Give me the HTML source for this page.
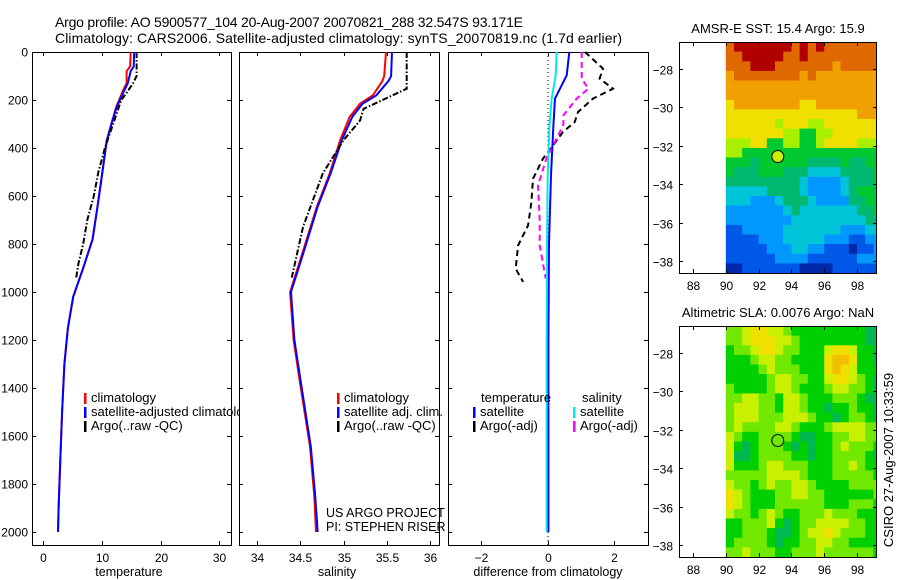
<!DOCTYPE html>
<html><head><meta charset="utf-8">
<style>
html,body{margin:0;padding:0;background:#fff;}
svg{display:block;font-family:"Liberation Sans",sans-serif;}
</style></head>
<body>
<svg id="fig" width="900" height="580" viewBox="0 0 900 580" xmlns="http://www.w3.org/2000/svg"></svg>
<script>
// ---------- data ----------
const depthTemp = [0,60,80,130,160,230,300,370,530,650,780,900,1020,1150,1300,1500,1700,1900,2000];
const tempClim  = [14.9,14.8,14.2,14.2,13.6,12.4,11.6,10.8,9.9,9.2,8.4,6.8,5.1,4.2,3.6,3.2,2.9,2.6,2.5];
const tempSat   = [15.5,15.4,14.9,14.4,13.8,12.5,11.6,10.8,9.9,9.2,8.4,6.8,5.1,4.2,3.6,3.2,2.9,2.6,2.5];
const depthArgo = [0,100,130,170,200,250,300,400,500,600,700,800,880,940];
const tempArgo  = [15.9,15.9,15.3,14.2,13.3,12.6,11.9,10.5,9.4,8.6,7.5,6.8,6.0,5.6];

const depthSal = [0,100,120,180,215,270,367,505,644,853,1000,1200,1367,1644,1850,2000];
const salClim  = [35.49,35.47,35.45,35.34,35.19,35.07,34.96,34.84,34.69,34.51,34.38,34.42,34.49,34.61,34.66,34.68];
const salSat   = [35.56,35.55,35.52,35.38,35.22,35.1,34.98,34.85,34.70,34.52,34.39,34.43,34.50,34.62,34.67,34.70];
const depthSalArgo = [0,153,195,237,285,367,505,728,922,940];
const salArgo  = [35.73,35.73,35.48,35.23,35.19,35.0,34.76,34.53,34.41,34.40];

const depthDiffSat = [0,97,194,306,514,800,1200,2000];
const diffTempSat  = [0.65,0.57,0.22,0.17,0.1,0.04,0.02,0.02];
const diffSalSat   = [0.27,0.24,0.12,0.05,0.0,-0.02,-0.03,-0.03];
const depthDiffArgo = [0,69,111,153,194,250,292,333,389,444,528,625,722,806,903,958];
const diffTempArgo  = [1.12,1.66,1.56,1.96,1.36,0.91,0.81,0.46,0.16,-0.14,-0.44,-0.49,-0.59,-0.89,-0.96,-0.74];
const depthDiffSalArgo = [0,111,153,194,264,300,347,389,444,556,700,806,944];
const diffSalArgo  = [1.02,1.02,1.22,0.87,0.47,0.47,0.32,0.16,-0.04,-0.29,-0.24,-0.24,-0.06];

const depthTicks = [0,200,400,600,800,1000,1200,1400,1600,1800,2000];
const tempTicks = [0,10,20,30];
const salTicks = [34,34.5,35,35.5,36];
const diffTicks = [-2,0,2];
const lonTicks = [88,90,92,94,96,98];
const latTicks = [-28,-30,-32,-34,-36,-38];

const sstRows = [
"9AAAAAAA9A9A9999999","99AAAAA99A999999999","999AAA9999999899999","8999999998988888888",
"8888888888888888888","8888888888888888888","7888888887788888888","7777777777777777888",
"7777776777667777777","7777777665566777777","6667755665567777666","6655555555555555555",
"5554555555444454455","5444555444333344445","4444444443222234445","3333344443222234555",
"3332223444322224455","2222222343333333445","2222222233333333344","1122222333333322233",
"1111222333332221122","1111122233221110112","1111112222111111222","0011111110000111111"];
const sstColors = {"0":"#0028a8","1":"#0058e8","2":"#0098ff","3":"#00c4d8","4":"#00b870","5":"#00c830","6":"#a8f000","7":"#f0e000","8":"#f0a000","9":"#e06800","A":"#b00000"};
const slaRows = [
"2234433211111111100","2234443321111111100","1223443221113443110","1112332211114554110",
"1111232221114543111","1111123322113443210","2111123321112332210","2233221332111222100",
"2333221332110112110","2333222333211012210","2322223321112333322","3211222210011223322",
"3101222101011232221","3001222211011222210","3111233222111223211","2222233332111222221",
"3221232233211112222","4321112233221111112","4321112222221112221","3221232112223222111",
"1122231012233332211","1122210012334322211","1222210112233221111","2232221122232222221"];
const slaColors = {"0":"#00b850","1":"#00d000","2":"#70e800","3":"#c8f000","4":"#f0e000","5":"#f0c000"};
const argoLon = 93.171, argoLat = -32.547;

// ---------- helpers ----------
const NS="http://www.w3.org/2000/svg";
const svg=document.getElementById('fig');
function el(tag,attrs,parent){const e=document.createElementNS(NS,tag);for(const k in attrs)e.setAttribute(k,attrs[k]);(parent||svg).appendChild(e);return e;}
function txt(s,x,y,attrs,parent){const t=el('text',Object.assign({x:x,y:y,'font-size':13,fill:'#000'},attrs||{}),parent);t.textContent=s;return t;}

const TOP=52, BOT=545;
const yD = d => TOP + d*0.24;
const xT = v => 43.3 + v*5.867;
const xS = v => 257.3 + (v-34)*86.35;
const xF = v => 547.7 + v*33.3;

function panel(name,x0,x1){
  const r=el('rect',{x:x0+0.5,y:TOP+0.5,width:x1-x0,height:BOT-TOP,fill:'#fff',stroke:'#000','stroke-width':1});
  
  
  return r;
}
function ticksY(x0,x1,labels){
  depthTicks.forEach(d=>{
    const y=Math.round(yD(d))+0.5;
    el('line',{x1:x0,y1:y,x2:x0+4,y2:y,stroke:'#000'});
    el('line',{x1:x1-4,y1:y,x2:x1,y2:y,stroke:'#000'});
    if(labels){const t=txt(String(d),28,y+4,{'text-anchor':'end','font-size':12});
      
      }
  });
}
function ticksX(vals,fx,fmt,name){
  vals.forEach(v=>{
    const x=Math.round(fx(v))+0.5;
    el('line',{x1:x,y1:TOP,x2:x,y2:TOP+4,stroke:'#000'});
    el('line',{x1:x,y1:BOT-4,x2:x,y2:BOT,stroke:'#000'});
    const t=txt(fmt(v),x,562,{'text-anchor':'middle','font-size':12});
    
    
  });
}
function line(xs,ds,fx,color,name,dash){
  const pts=xs.map((v,i)=>fx(v).toFixed(1)+','+yD(ds[i]).toFixed(1)).join(' ');
  const a={points:pts,fill:'none',stroke:color,'stroke-width':2};
  if(dash)a['stroke-dasharray']=dash;
  const p=el('polyline',a);
  
  
}
function legend(items,x,y){
  items.forEach((it,i)=>{
    el('rect',{x:x,y:y+i*14-9,width:2.5,height:11,fill:it[1]});
    const t=txt(it[0],x+7,y+i*14,{});
    
    
  });
}

// ---------- titles ----------
let t=txt('Argo profile: AO 5900577_104 20-Aug-2007 20070821_288 32.547S 93.171E',55,27,{'font-size':14,textLength:468});


t=txt('Climatology: CARS2006. Satellite-adjusted climatology: synTS_20070819.nc (1.7d earlier)',55,43,{'font-size':14,textLength:567});



// ---------- panel 1 ----------
panel('temperature-panel',32,231);
ticksY(32,231,true);
ticksX(tempTicks,xT,v=>String(v),'temperature-tick-label');
line(tempClim,depthTemp,xT,'#ff0000','temperature-climatology-line');
line(tempSat,depthTemp,xT,'#0000ff','temperature-satellite-line');
line(tempArgo,depthArgo,xT,'#000000','temperature-argo-line','6,2,1.5,2');
legend([['climatology','#ff0000'],['satellite-adjusted climatology','#0000ff'],['Argo(..raw -QC)','#000000']],84,402);
t=txt('temperature',129,576,{'text-anchor':'middle','font-size':12.5});



// ---------- panel 2 ----------
panel('salinity-panel',239,439);
ticksY(239,439,false);
ticksX(salTicks,xS,v=>String(v),'salinity-tick-label');
line(salClim,depthSal,xS,'#ff0000','salinity-climatology-line');
line(salSat,depthSal,xS,'#0000ff','salinity-satellite-line');
line(salArgo,depthSalArgo,xS,'#000000','salinity-argo-line','6,2,1.5,2');
legend([['climatology','#ff0000'],['satellite adj. clim.','#0000ff'],['Argo(..raw -QC)','#000000']],337,402);
t=txt('US ARGO PROJECT',326,517,{'font-size':12.5});


t=txt('PI: STEPHEN RISER',326,531,{'font-size':12.5});


t=txt('salinity',337,576,{'text-anchor':'middle','font-size':12.5});



// ---------- panel 3 ----------
panel('difference-panel',448,648);
ticksY(448,648,false);
ticksX(diffTicks,xF,v=>v<0?'\u2212'+Math.abs(v):String(v),'difference-tick-label');
el('line',{x1:548,y1:TOP,x2:548,y2:BOT,stroke:'#000','stroke-dasharray':'1,3'});
line(diffTempArgo,depthDiffArgo,xF,'#000000','difference-temperature-argo-line','6,4');
line(diffSalArgo,depthDiffSalArgo,xF,'#ff00ff','difference-salinity-argo-line','6,4');
line(diffTempSat,depthDiffSat,xF,'#0000ff','difference-temperature-satellite-line');
line(diffSalSat,depthDiffSat,xF,'#00e8e8','difference-salinity-satellite-line');
t=txt('temperature',481,402,{});


t=txt('salinity',582,402,{});


legend([['satellite','#0000ff'],['Argo(-adj)','#000000']],473,416);
legend([['satellite','#00e8e8'],['Argo(-adj)','#ff00ff']],573,416);
t=txt('difference from climatology',548,576,{'text-anchor':'middle','font-size':12.5});



// ---------- maps ----------
function map(name,top,rows,colors,titleStr,circFill){
  const L=679,R=877,H=231;
  const xL=v=>725.8+(v-90)*16.4;
  const yL=v=>top+(v+26.6)*(-H/12);
  const g=el('g',{});
  
  
  el('rect',{x:L,y:top,width:R-L,height:H,fill:'#fff'},g);
  const cl=el('clipPath',{id:name+'-clip'},g);
  el('rect',{x:L,y:top,width:R-L,height:H},cl);
  const cg=el('g',{'clip-path':'url(#'+name+'-clip)'},g);
  rows.forEach((row,ri)=>{
    for(let ci=0;ci<row.length;ci++){
      const lon=90+ci*0.5, lat=-26.6-ri*0.5;
      const x=xL(lon), y=yL(lat);
      const c=el('rect',{x:x.toFixed(1),y:y.toFixed(1),width:(xL(lon+0.5)-x+0.4).toFixed(1),height:(yL(lat-0.5)-y+0.4).toFixed(1),fill:colors[row[ci]]},cg);
      
      
    }
  });
  el('rect',{x:L+0.5,y:top+0.5,width:R-L-1,height:H,fill:'none',stroke:'#000'},g);
  lonTicks.forEach(v=>{
    const x=Math.round(xL(v))+0.5;
    el('line',{x1:x,y1:top,x2:x,y2:top+4,stroke:'#000'},g);
    el('line',{x1:x,y1:top+H-4,x2:x,y2:top+H,stroke:'#000'},g);
    const lt=txt(String(v),x,top+H+17,{'text-anchor':'middle','font-size':12},g);
    
    
  });
  latTicks.forEach(v=>{
    const y=Math.round(yL(v))+0.5;
    el('line',{x1:L,y1:y,x2:L+4,y2:y,stroke:'#000'},g);
    el('line',{x1:R-4,y1:y,x2:R,y2:y,stroke:'#000'},g);
    const lt=txt('\u2212'+Math.abs(v),673,y+5,{'text-anchor':'end','font-size':12},g);
    
    
  });
  const c=el('circle',{cx:xL(argoLon),cy:yL(argoLat),r:6,fill:circFill,stroke:'#000','stroke-width':1},g);
  
  
  const tt=txt(titleStr,778,top-9,{'text-anchor':'middle'},g);
  
  
}
map('sst-map',42,sstRows,sstColors,'AMSR-E SST: 15.4  Argo: 15.9','#c8f000');
map('sla-map',326,slaRows,slaColors,'Altimetric SLA: 0.0076  Argo: NaN','none');

t=txt('CSIRO 27-Aug-2007 10:33:59',0,0,{transform:'translate(893,460) rotate(-90)','text-anchor':'middle'});


</script>
</body></html>
